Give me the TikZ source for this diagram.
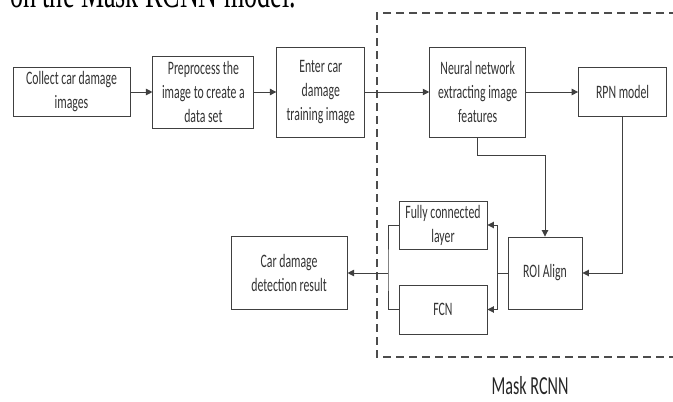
\documentclass[tikz,border=0pt]{standalone}
\usepackage{fontspec}
\setmainfont{Carlito}[FakeStretch=0.62]
\newfontfamily\captionserif{Liberation Serif}[FakeStretch=0.62]
\usetikzlibrary{positioning, arrows.meta}
\tikzset{
    stage box/.style = {draw=black!75, line width=0.9pt, align=center, text=black!80,
        inner sep=2pt, font=\fontsize{19}{24}\selectfont},
}
\tikzset{
    flow edge/.style = {draw=black!75, line width=0.9pt, -{Triangle[length=6.5pt,width=6.5pt]}},
    plain edge/.style = {draw=black!75, line width=0.9pt},
}

\begin{document}
\begin{tikzpicture}[x=1pt, y=-1pt, node distance=22pt]
            \useasboundingbox (0,0) rectangle (673,402);
            \clip (0,0) rectangle (673,402);
            \node[anchor=base west, inner sep=0pt, font=\captionserif\fontsize{42}{42}\selectfont] (title) at (10,7) {on the Mask RCNN model.};

            % Mask RCNN frame
            \draw[black!70, line width=1.1pt, dash pattern=on 8pt off 5pt] (690,13) -- (377,13) -- (377,357) -- (690,357);
            \node[anchor=base, inner sep=0pt, font=\fontsize{26}{26}\selectfont, text=black!85] (mask) at (530,394) {Mask RCNN};

            \node[stage box, minimum width=117pt, minimum height=49pt] (collect) at (71.5,92) {Collect car damage\\images};
            \node[stage box, minimum width=101pt, minimum height=72pt, right=of collect] (prep) {Preprocess the\\image to create a\\data set};
            \node[stage box, minimum width=88pt, minimum height=90pt, right=of prep] (enter) {Enter car\\damage\\training image};
            \node[stage box, minimum width=96pt, minimum height=90pt, right=64pt of enter] (neural) {Neural network\\extracting image\\features};
            \node[stage box, minimum width=88pt, minimum height=49pt, right=52pt of neural] (rpn) {RPN model};

            \node[stage box, minimum width=74pt, minimum height=72pt] (roi) at (545,273) {ROI Align};
            \node[stage box, minimum width=88pt, minimum height=48pt] (fc) at (443,225) {Fully connected\\layer};
            \node[stage box, minimum width=88pt, minimum height=49pt] (fcn) at (443,309.5) {FCN};
            \node[stage box, minimum width=116pt, minimum height=73pt, left=160pt of roi] (car) {Car damage\\detection result};

            \draw[flow edge] (collect) -- (prep);
            \draw[flow edge] (prep) -- (enter);
            \draw[flow edge] (enter) -- (neural);
            \draw[flow edge] (neural) -- (rpn);
            \draw[flow edge] (neural.south) -- ++(0,18) -| (roi.north);
            \draw[flow edge] (rpn.south) |- (roi.east);

            \coordinate[left=10pt of roi.west] (split);
            \draw[plain edge] (roi.west) -- (split);
            \draw[flow edge] (split) |- (fc.east);
            \draw[flow edge] (split) |- (fcn.east);

            \coordinate (join) at (388,273);
            \draw[plain edge] (fc.west) -| (join) |- (fcn.west);
            \draw[flow edge] (join) -- (car.east);
        \end{tikzpicture}
\end{document}
